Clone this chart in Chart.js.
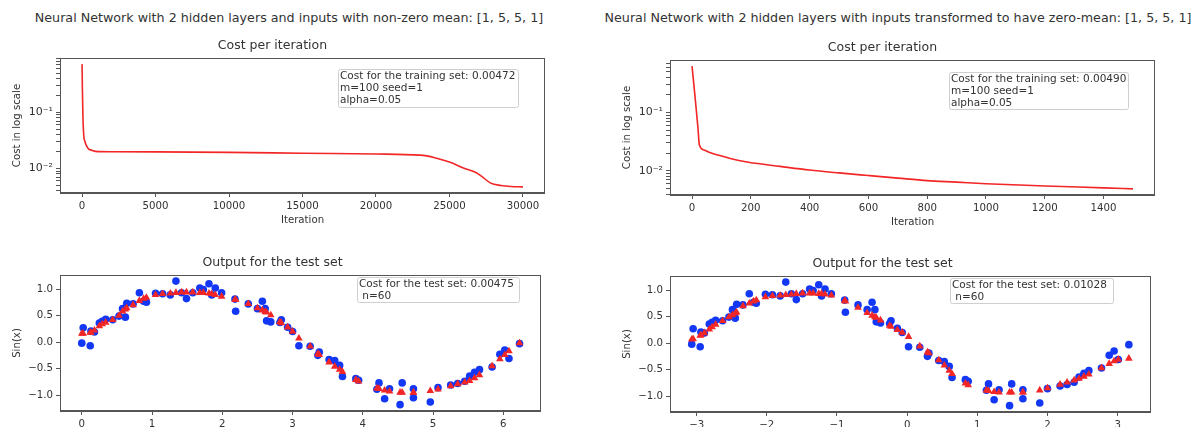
<!DOCTYPE html>
<html>
<head>
<meta charset="utf-8">
<script src="https://cdn.jsdelivr.net/npm/chart.js@4.4.1/dist/chart.umd.min.js"></script>
<style>
  body { margin: 0; background: #fff; width: 1201px; height: 427px; overflow: hidden; position: relative;
         font-family: "DejaVu Sans", sans-serif; color: #333; }
  canvas { position: absolute; }
  .sup { position: absolute; top: 10px; font-size: 12.7px; white-space: nowrap; transform: translateX(-50%); }
</style>
</head>
<body>
<div class="sup" style="left:289px">Neural Network with 2 hidden layers and inputs with non-zero mean: [1, 5, 5, 1]</div>
<div class="sup" style="left:898px">Neural Network with 2 hidden layers with inputs transformed to have zero-mean: [1, 5, 5, 1]</div>
<canvas id="costLeft"></canvas>
<canvas id="costRight"></canvas>
<canvas id="testLeft"></canvas>
<canvas id="testRight"></canvas>
<script>
// cost per iteration
const iterLeft = [0, 25, 60, 116, 200, 400, 700, 1100, 2000, 5000, 10000, 15000, 20000, 23000, 24000, 25000, 26000, 26800, 27300, 27800, 28500, 29200, 30000];
const costLeft = [0.72, 0.25, 0.085, 0.039, 0.030, 0.0229, 0.0210, 0.0200, 0.0199, 0.0198, 0.0194, 0.0187, 0.0181, 0.0173, 0.0156, 0.0130, 0.0101, 0.0085, 0.0069, 0.0055, 0.0050, 0.0048, 0.00472];
const iterRight = [0, 10, 20, 25, 41, 60, 88, 130, 192, 300, 400, 500, 600, 700, 800, 900, 1000, 1200, 1400, 1500];
const costRight = [0.62, 0.19, 0.055, 0.0277, 0.0228, 0.0205, 0.0187, 0.0162, 0.0140, 0.0119, 0.0103, 0.0092, 0.0083, 0.0075, 0.0068, 0.0064, 0.0060, 0.0055, 0.0051, 0.0049];

// test set: inputs, true values, predictions
const xTestLeft = [0.00, 0.02, 0.12, 0.13, 0.18, 0.25, 0.29, 0.34, 0.44, 0.53, 0.58, 0.62, 0.64, 0.73, 0.82, 0.88, 0.92, 1.05, 1.15, 1.26, 1.34, 1.42, 1.49, 1.58, 1.68, 1.73, 1.81, 1.85, 1.90, 1.99, 2.18, 2.19, 2.37, 2.50, 2.57, 2.61, 2.63, 2.69, 2.82, 2.84, 2.93, 3.00, 3.09, 3.25, 3.36, 3.38, 3.52, 3.60, 3.67, 3.71, 3.90, 3.94, 4.20, 4.23, 4.31, 4.38, 4.53, 4.56, 4.72, 4.72, 4.96, 5.07, 5.25, 5.35, 5.45, 5.52, 5.59, 5.66, 5.84, 5.95, 6.02, 6.08, 6.23];
const xTestRight = [-3.07, -3.05, -2.95, -2.94, -2.89, -2.82, -2.78, -2.73, -2.63, -2.54, -2.49, -2.45, -2.43, -2.34, -2.25, -2.19, -2.15, -2.02, -1.92, -1.81, -1.73, -1.65, -1.58, -1.49, -1.39, -1.34, -1.26, -1.22, -1.17, -1.08, -0.89, -0.88, -0.70, -0.57, -0.50, -0.46, -0.44, -0.38, -0.25, -0.23, -0.14, -0.07, 0.02, 0.18, 0.29, 0.31, 0.45, 0.53, 0.60, 0.64, 0.83, 0.87, 1.13, 1.16, 1.24, 1.31, 1.46, 1.49, 1.65, 1.65, 1.89, 2.00, 2.18, 2.28, 2.38, 2.45, 2.52, 2.59, 2.77, 2.88, 2.95, 3.01, 3.16];
const yTest = [-0.02, 0.27, -0.07, 0.21, 0.19, 0.36, 0.39, 0.43, 0.42, 0.49, 0.63, 0.47, 0.73, 0.72, 0.93, 0.77, 0.75, 0.92, 0.91, 0.89, 1.15, 0.93, 0.82, 0.93, 1.02, 0.99, 1.10, 0.89, 1.02, 0.93, 0.81, 0.58, 0.72, 0.63, 0.77, 0.63, 0.40, 0.38, 0.37, 0.42, 0.28, 0.20, -0.07, -0.08, -0.25, -0.19, -0.33, -0.35, -0.44, -0.65, -0.69, -0.72, -0.89, -0.77, -1.07, -0.88, -1.18, -0.77, -0.88, -1.05, -1.13, -0.86, -0.81, -0.78, -0.74, -0.64, -0.57, -0.52, -0.47, -0.23, -0.15, -0.31, -0.03];
const yPredLeft = [0.16, 0.16, 0.18, 0.18, 0.22, 0.30, 0.34, 0.37, 0.42, 0.50, 0.58, 0.62, 0.64, 0.70, 0.78, 0.82, 0.84, 0.89, 0.91, 0.92, 0.93, 0.94, 0.94, 0.94, 0.93, 0.93, 0.92, 0.91, 0.89, 0.86, 0.80, 0.80, 0.72, 0.64, 0.60, 0.57, 0.56, 0.51, 0.38, 0.36, 0.28, 0.20, 0.07, -0.08, -0.22, -0.24, -0.38, -0.46, -0.52, -0.56, -0.71, -0.74, -0.87, -0.88, -0.91, -0.93, -0.95, -0.95, -0.95, -0.95, -0.92, -0.89, -0.83, -0.79, -0.76, -0.73, -0.68, -0.62, -0.45, -0.32, -0.24, -0.17, -0.02];
const yPredRight = [0.07, 0.08, 0.14, 0.15, 0.19, 0.26, 0.30, 0.35, 0.42, 0.49, 0.53, 0.56, 0.58, 0.70, 0.75, 0.79, 0.81, 0.87, 0.89, 0.90, 0.91, 0.92, 0.93, 0.94, 0.94, 0.94, 0.93, 0.93, 0.92, 0.90, 0.80, 0.79, 0.67, 0.57, 0.52, 0.49, 0.48, 0.43, 0.33, 0.31, 0.25, 0.20, 0.12, -0.06, -0.17, -0.19, -0.32, -0.42, -0.52, -0.58, -0.76, -0.79, -0.89, -0.90, -0.92, -0.93, -0.93, -0.93, -0.93, -0.93, -0.89, -0.85, -0.78, -0.74, -0.70, -0.67, -0.63, -0.59, -0.47, -0.39, -0.34, -0.31, -0.29];

// tick values
const iterTicksLeft = [0, 5000, 10000, 15000, 20000, 25000, 30000];
const iterTicksRight = [0, 200, 400, 600, 800, 1000, 1200, 1400];
const logTicks = [0.003, 0.004, 0.005, 0.006, 0.007, 0.008, 0.009, 0.01, 0.02, 0.03, 0.04, 0.05, 0.06, 0.07, 0.08, 0.09,
                  0.1, 0.2, 0.3, 0.4, 0.5, 0.6, 0.7, 0.8, 0.9, 1];
const sinTicks = [-1, -0.5, 0, 0.5, 1];
const xTicksLeft = [0, 1, 2, 3, 4, 5, 6];
const xTicksRight = [-3, -2, -1, 0, 1, 2, 3];

const RED = '#f22626';
const BLUE = '#1237f5';
const INK = '#333333';
const SPINE = '#555555';

Chart.defaults.font.family = '"DejaVu Sans", sans-serif';
Chart.defaults.color = INK;
Chart.defaults.animation = false;

const SUP = { '-': '\u207B', '0': '\u2070', '1': '\u00B9', '2': '\u00B2', '3': '\u00B3' };
const minus = s => String(s).replace('-', '\u2212');

// top and right spines, like matplotlib's box
const frame = {
    id: 'frame',
    afterDraw(chart) {
        const { ctx, chartArea: a } = chart;
        ctx.save();
        ctx.strokeStyle = SPINE;
        ctx.lineWidth = 1;
        ctx.strokeRect(Math.round(a.left) + 0.5, Math.round(a.top) + 0.5,
                       Math.round(a.right) - Math.round(a.left) - 1, Math.round(a.bottom) - Math.round(a.top) - 1);
        ctx.restore();
    }
};

// legend-like text box
const infoBox = {
    id: 'infoBox',
    afterDraw(chart, args, opts) {
        const { ctx, chartArea } = chart;
        const x = Math.round(chartArea.left + opts.dx) + 0.5;
        const y = Math.round(chartArea.top + opts.dy) + 0.5;
        ctx.save();
        ctx.fillStyle = 'rgba(255,255,255,0.85)';
        ctx.strokeStyle = '#cfcfcf';
        ctx.lineWidth = 1;
        ctx.beginPath();
        ctx.roundRect(x, y, opts.w, opts.h, 2);
        ctx.fill();
        ctx.stroke();
        ctx.fillStyle = INK;
        ctx.font = '10.5px "DejaVu Sans"';
        ctx.textBaseline = 'middle';
        opts.lines.forEach((t, i) => ctx.fillText(t, x + 1.5, y + 6.5 + i * 12));
        ctx.restore();
    }
};

function axisBase(extra) {
    return Object.assign({
        grid: { display: true, drawOnChartArea: false, drawTicks: true, tickLength: 4, tickColor: SPINE },
        border: { display: true, color: SPINE, width: 1 },
        ticks: { font: { size: 10.2 }, color: INK, padding: 3, maxRotation: 0, autoSkip: false }
    }, extra);
}

function makeChart(id, box, cfg) {
    const canvas = document.getElementById(id);
    canvas.width = box.w + 72;
    canvas.height = box.h + 63;
    canvas.style.left = (box.l - 60) + 'px';
    canvas.style.top = (box.t - 25) + 'px';

    const xScale = axisBase({
        type: 'linear', min: cfg.xMin, max: cfg.xMax,
        afterFit: s => { s.height = 38; },
        afterBuildTicks: s => { s.ticks = cfg.xTicks.map(v => ({ value: v })); },
        title: { display: !!cfg.xTitle, text: cfg.xTitle, font: { size: 10.2 }, color: INK, padding: { top: 0, bottom: 5 } }
    });
    xScale.ticks = Object.assign({}, xScale.ticks, { callback: v => minus(v) });

    const yScale = axisBase({
        type: cfg.yType, min: cfg.yMin, max: cfg.yMax,
        afterFit: s => { s.width = 60; },
        afterBuildTicks: s => { s.ticks = cfg.yTicks.filter(v => v >= s.min && v <= s.max).map(v => ({ value: v })); },
        title: { display: true, text: cfg.yTitle, font: { size: 10.2 }, color: INK, padding: { top: 11, bottom: 0 } }
    });
    yScale.ticks = Object.assign({}, yScale.ticks, {
        font: { size: cfg.yType === 'logarithmic' ? 11 : 10.2 },
        callback: cfg.yType === 'logarithmic'
            ? v => {
                const e = Math.log10(v);
                if (Math.abs(e - Math.round(e)) > 1e-9) return '';
                return '10' + String(Math.round(e)).split('').map(c => SUP[c]).join('');
            }
            : v => minus(v.toFixed(1))
    });

    return new Chart(canvas, {
        type: 'scatter',
        data: { datasets: cfg.datasets },
        options: {
            responsive: false,
            layout: { padding: 0 },
            scales: { x: xScale, y: yScale },
            plugins: {
                legend: { display: false },
                tooltip: { enabled: false },
                title: { display: true, text: cfg.title, color: INK, font: { size: 12.5, weight: 'normal', lineHeight: '14px' },
                         padding: { top: 6, bottom: 5 } },
                infoBox: cfg.info
            }
        },
        plugins: [frame, infoBox]
    });
}

function costLine(iters, costs) {
    return {
        data: iters.map((x, i) => ({ x: x, y: costs[i] })),
        showLine: true, borderColor: RED, borderWidth: 1.6, pointRadius: 0,
        cubicInterpolationMode: 'monotone'
    };
}

function testSets(xs, preds) {
    return [
        { data: xs.map((x, i) => ({ x: x, y: preds[i] })), pointStyle: 'triangle', pointRadius: 4.4,
          backgroundColor: RED, borderWidth: 0, order: 0 },
        { data: xs.map((x, i) => ({ x: x, y: yTest[i] })), pointStyle: 'circle', pointRadius: 3.8,
          backgroundColor: BLUE, borderWidth: 0, order: 1 }
    ];
}

makeChart('costLeft', { l: 60, t: 58, w: 473, h: 135 }, {
    title: 'Cost per iteration', xTitle: 'Iteration', yTitle: 'Cost in log scale',
    xMin: -1500, xMax: 31500, xTicks: iterTicksLeft,
    yType: 'logarithmic', yMin: 0.00367, yMax: 0.925, yTicks: logTicks,
    datasets: [costLine(iterLeft, costLeft)],
    info: { dx: 278, dy: 11, w: 180, h: 38, lines: ['Cost for the training set: 0.00472', 'm=100 seed=1', 'alpha=0.05'] }
});

makeChart('costRight', { l: 670, t: 60, w: 473, h: 135 }, {
    title: 'Cost per iteration', xTitle: 'Iteration', yTitle: 'Cost in log scale',
    xMin: -75, xMax: 1575, xTicks: iterTicksRight,
    yType: 'logarithmic', yMin: 0.00385, yMax: 0.791, yTicks: logTicks,
    datasets: [costLine(iterRight, costRight)],
    info: { dx: 279, dy: 12, w: 179, h: 37, lines: ['Cost for the training set: 0.00490', 'm=100 seed=1', 'alpha=0.05'] }
});

makeChart('testLeft', { l: 60, t: 275, w: 473, h: 136 }, {
    title: 'Output for the test set', xTitle: '', yTitle: 'Sin(x)',
    xMin: -0.31, xMax: 6.53, xTicks: xTicksLeft,
    yType: 'linear', yMin: -1.30, yMax: 1.265, yTicks: sinTicks,
    datasets: testSets(xTestLeft, yPredLeft),
    info: { dx: 297, dy: 2, w: 162, h: 25, lines: ['Cost for the test set: 0.00475', ' n=60'] }
});

makeChart('testRight', { l: 670, t: 276, w: 473, h: 136 }, {
    title: 'Output for the test set', xTitle: '', yTitle: 'Sin(x)',
    xMin: -3.38, xMax: 3.47, xTicks: xTicksRight,
    yType: 'linear', yMin: -1.30, yMax: 1.265, yTicks: sinTicks,
    datasets: testSets(xTestRight, yPredRight),
    info: { dx: 280, dy: 2, w: 163, h: 25, lines: ['Cost for the test set: 0.01028', ' n=60'] }
});
</script>
</body>
</html>
